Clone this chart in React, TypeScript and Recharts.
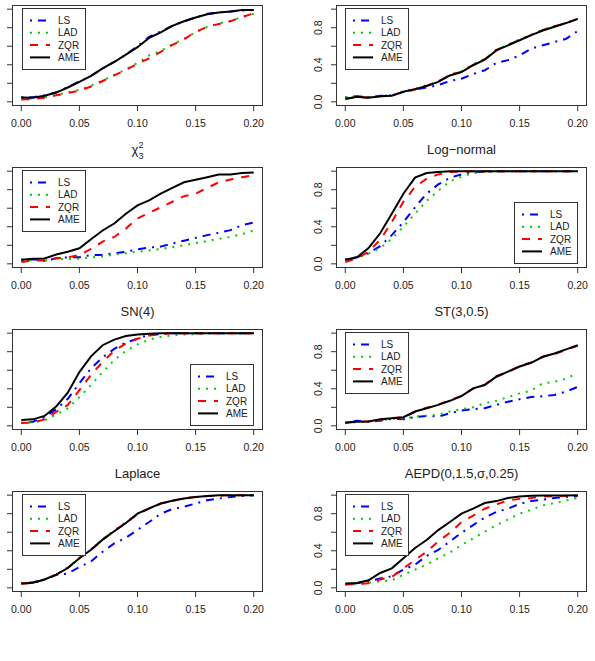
import React from "react";
import { LineChart, Line, XAxis, YAxis } from "recharts";

const xs = [0, 0.01, 0.02, 0.03, 0.04, 0.05, 0.06, 0.07, 0.08, 0.09, 0.1, 0.11, 0.12, 0.13, 0.14, 0.15, 0.16, 0.17, 0.18, 0.19, 0.2];
const xTicks = [0, 0.05, 0.1, 0.15, 0.2];
const yTicks = [0, 0.2, 0.4, 0.6, 0.8, 1];
const yLabels = ["0.0", "", "0.4", "", "0.8", ""];
const seriesNames = ["LS", "LAD", "ZQR", "AME"];

// row 1, left (title cut off)
const lsA = [0.05, 0.05, 0.07, 0.1, 0.16, 0.22, 0.28, 0.36, 0.43, 0.51, 0.6, 0.7, 0.76, 0.82, 0.87, 0.91, 0.95, 0.965, 0.975, 0.985, 0.99];
const ladA = [0.03, 0.035, 0.05, 0.075, 0.1, 0.13, 0.175, 0.23, 0.29, 0.35, 0.42, 0.5, 0.55, 0.62, 0.68, 0.75, 0.81, 0.845, 0.875, 0.915, 0.95];
const zqrA = [0.025, 0.03, 0.045, 0.07, 0.095, 0.12, 0.165, 0.225, 0.285, 0.345, 0.41, 0.47, 0.54, 0.615, 0.675, 0.755, 0.81, 0.84, 0.87, 0.915, 0.955];
const ameA = [0.047, 0.045, 0.065, 0.1, 0.155, 0.215, 0.28, 0.36, 0.43, 0.51, 0.59, 0.69, 0.75, 0.82, 0.87, 0.91, 0.945, 0.965, 0.975, 0.99, 0.99];

// row 1, right (title cut off)
const lsB = [0.05, 0.06, 0.05, 0.065, 0.07, 0.105, 0.13, 0.155, 0.18, 0.225, 0.25, 0.3, 0.34, 0.42, 0.45, 0.5, 0.575, 0.61, 0.645, 0.68, 0.765];
const ladB = [0.05, 0.06, 0.05, 0.065, 0.07, 0.115, 0.14, 0.18, 0.22, 0.295, 0.33, 0.405, 0.465, 0.56, 0.62, 0.675, 0.725, 0.78, 0.815, 0.85, 0.895];
const zqrB = [0.035, 0.05, 0.045, 0.06, 0.065, 0.11, 0.135, 0.175, 0.22, 0.29, 0.325, 0.4, 0.46, 0.56, 0.615, 0.67, 0.72, 0.775, 0.815, 0.85, 0.895];
const ameB = [0.03, 0.055, 0.045, 0.06, 0.065, 0.11, 0.135, 0.17, 0.215, 0.285, 0.32, 0.395, 0.455, 0.555, 0.61, 0.665, 0.72, 0.77, 0.81, 0.85, 0.895];

// chi-square 3
const lsC = [0.043, 0.05, 0.032, 0.06, 0.07, 0.07, 0.095, 0.095, 0.115, 0.13, 0.157, 0.175, 0.186, 0.22, 0.25, 0.28, 0.31, 0.335, 0.364, 0.418, 0.446];
const ladC = [0.03, 0.04, 0.035, 0.055, 0.05, 0.055, 0.07, 0.08, 0.1, 0.115, 0.13, 0.145, 0.16, 0.18, 0.2, 0.225, 0.245, 0.27, 0.29, 0.32, 0.36];
const zqrC = [0.02, 0.035, 0.035, 0.06, 0.07, 0.095, 0.16, 0.24, 0.29, 0.38, 0.49, 0.55, 0.61, 0.67, 0.73, 0.757, 0.82, 0.88, 0.91, 0.935, 0.955];
const ameC = [0.043, 0.054, 0.057, 0.1, 0.13, 0.168, 0.265, 0.36, 0.435, 0.54, 0.63, 0.685, 0.757, 0.82, 0.88, 0.907, 0.935, 0.965, 0.965, 0.98, 0.985];

// log-normal
const lsD = [0.05, 0.07, 0.115, 0.19, 0.31, 0.45, 0.61, 0.757, 0.857, 0.93, 0.965, 0.99, 0.995, 1, 1, 1, 1, 1, 1, 1, 1];
const ladD = [0.04, 0.065, 0.11, 0.17, 0.27, 0.4, 0.54, 0.68, 0.79, 0.89, 0.94, 0.98, 0.99, 1, 1, 1, 1, 1, 1, 1, 1];
const zqrD = [0.02, 0.06, 0.13, 0.26, 0.45, 0.67, 0.83, 0.92, 0.965, 0.99, 0.995, 1, 1, 1, 1, 1, 1, 1, 1, 1, 1];
const ameD = [0.043, 0.07, 0.17, 0.33, 0.54, 0.757, 0.93, 0.98, 0.99, 1, 1, 1, 1, 1, 1, 1, 1, 1, 1, 1, 1];

// SN(4)
const lsE = [0.03, 0.045, 0.093, 0.18, 0.29, 0.46, 0.62, 0.74, 0.83, 0.9, 0.94, 0.985, 0.99, 1, 1, 1, 1, 1, 1, 1, 1];
const ladE = [0.03, 0.04, 0.06, 0.12, 0.19, 0.31, 0.44, 0.58, 0.71, 0.81, 0.88, 0.93, 0.96, 0.975, 0.985, 0.99, 1, 1, 1, 1, 1];
const zqrE = [0.03, 0.035, 0.07, 0.15, 0.225, 0.385, 0.55, 0.69, 0.81, 0.89, 0.94, 0.975, 0.99, 1, 1, 1, 1, 1, 1, 1, 1];
const ameE = [0.064, 0.07, 0.107, 0.207, 0.357, 0.58, 0.75, 0.87, 0.93, 0.97, 0.985, 0.995, 1, 1, 1, 1, 1, 1, 1, 1, 1];

// ST(3,0.5)
const lsF = [0.03, 0.055, 0.045, 0.055, 0.075, 0.07, 0.095, 0.107, 0.1, 0.135, 0.165, 0.18, 0.19, 0.226, 0.26, 0.287, 0.31, 0.32, 0.333, 0.37, 0.42];
const ladF = [0.03, 0.04, 0.045, 0.06, 0.075, 0.08, 0.1, 0.11, 0.12, 0.155, 0.18, 0.2, 0.245, 0.27, 0.31, 0.35, 0.38, 0.46, 0.475, 0.51, 0.57];
const zqrF = [0.03, 0.045, 0.05, 0.065, 0.085, 0.09, 0.15, 0.195, 0.23, 0.275, 0.325, 0.4, 0.445, 0.535, 0.58, 0.645, 0.685, 0.745, 0.775, 0.82, 0.865];
const ameF = [0.035, 0.043, 0.047, 0.07, 0.082, 0.093, 0.154, 0.19, 0.226, 0.27, 0.32, 0.405, 0.44, 0.53, 0.585, 0.64, 0.68, 0.745, 0.78, 0.825, 0.87];

// Laplace
const lsG = [0.05, 0.06, 0.09, 0.14, 0.154, 0.225, 0.285, 0.39, 0.48, 0.54, 0.625, 0.71, 0.8, 0.85, 0.875, 0.91, 0.946, 0.964, 0.98, 0.99, 1];
const ladG = [0.05, 0.055, 0.09, 0.145, 0.22, 0.325, 0.415, 0.525, 0.62, 0.71, 0.8, 0.855, 0.905, 0.94, 0.965, 0.98, 0.99, 0.995, 1, 1, 1];
const zqrG = [0.045, 0.05, 0.09, 0.14, 0.215, 0.32, 0.41, 0.52, 0.615, 0.7, 0.795, 0.855, 0.91, 0.94, 0.965, 0.98, 0.99, 0.995, 1, 1, 1];
const ameG = [0.046, 0.054, 0.09, 0.143, 0.214, 0.32, 0.41, 0.52, 0.61, 0.7, 0.8, 0.857, 0.91, 0.94, 0.964, 0.98, 0.99, 1, 1, 1, 1];

// AEPD(0,1.5,sigma,0.25)
const lsH = [0.04, 0.05, 0.07, 0.1, 0.125, 0.196, 0.25, 0.345, 0.41, 0.5, 0.594, 0.676, 0.758, 0.82, 0.854, 0.907, 0.936, 0.95, 0.97, 0.98, 0.99];
const ladH = [0.035, 0.04, 0.055, 0.07, 0.08, 0.142, 0.196, 0.25, 0.32, 0.38, 0.463, 0.534, 0.605, 0.676, 0.737, 0.8, 0.843, 0.89, 0.915, 0.943, 0.97];
const zqrH = [0.035, 0.04, 0.05, 0.09, 0.117, 0.21, 0.3, 0.39, 0.5, 0.594, 0.71, 0.78, 0.854, 0.9, 0.943, 0.96, 0.97, 0.986, 0.99, 0.993, 0.995];
const ameH = [0.046, 0.053, 0.082, 0.16, 0.21, 0.32, 0.43, 0.516, 0.623, 0.71, 0.8, 0.854, 0.915, 0.936, 0.97, 0.986, 0.993, 0.996, 0.996, 0.996, 1];

const panels = [
  { title: "", row: 0, col: 0, legend: "tl", series: [lsA, ladA, zqrA, ameA] },
  { title: "", row: 0, col: 1, legend: "tl", series: [lsB, ladB, zqrB, ameB] },
  { title: "chi", row: 1, col: 0, legend: "tl", series: [lsC, ladC, zqrC, ameC] },
  { title: "Log\u2212normal", row: 1, col: 1, legend: "br", series: [lsD, ladD, zqrD, ameD] },
  { title: "SN(4)", row: 2, col: 0, legend: "br", series: [lsE, ladE, zqrE, ameE] },
  { title: "ST(3,0.5)", row: 2, col: 1, legend: "tl", series: [lsF, ladF, zqrF, ameF] },
  { title: "Laplace", row: 3, col: 0, legend: "tl", series: [lsG, ladG, zqrG, ameG] },
  { title: "AEPD(0,1.5,\u03c3,0.25)", row: 3, col: 1, legend: "tl", series: [lsH, ladH, zqrH, ameH] },
];

const lineStyle: Record<string, { color: string; dash?: string }> = {
  LS: { color: "#0000FF", dash: "2 6 8 6" },
  LAD: { color: "#00CD00", dash: "2 6" },
  ZQR: { color: "#FF0000", dash: "8 8" },
  AME: { color: "#000000" },
};

const PW = 251;
const PH = 101;
const colLeft = [12.3, 336];
const FONT = "'Liberation Sans', Arial, Helvetica, sans-serif";

function rowTop(r: number) {
  return 4.7 + 162.1 * r;
}

function RotTick(props: any) {
  const { x, y, payload } = props;
  const lab = yLabels[yTicks.indexOf(payload.value)];
  if (!lab) return <g />;
  const X = x - 9;
  return (
    <text x={X} y={y} transform={`rotate(-90 ${X} ${y})`} textAnchor="middle" fontSize={10.5} fill="#222" fontFamily={FONT}>
      {lab}
    </text>
  );
}

function Legend({ pos, L, T }: { pos: string; L: number; T: number }) {
  const w = 64;
  const h = 62;
  const left = pos === "tl" ? L + 9.4 : L + 241.6 - w;
  const top = pos === "tl" ? T + 3 : T + 97 - h;
  return (
    <svg width={w} height={h} style={{ position: "absolute", left, top }}>
      <rect x={0.5} y={0.5} width={w - 1} height={h - 1} fill="#fff" stroke="#333" />
      {seriesNames.map((n, i) => {
        const yy = 12.5 + i * 12.3;
        return (
          <g key={n}>
            <line x1={8} x2={28} y1={yy} y2={yy} stroke={lineStyle[n].color} strokeWidth={2} strokeDasharray={lineStyle[n].dash} />
            <text x={36} y={yy} dominantBaseline="central" fontSize={10} fill="#222" fontFamily={FONT}>
              {n}
            </text>
          </g>
        );
      })}
    </svg>
  );
}

function Title({ text, L, T }: { text: string; L: number; T: number }) {
  if (!text) return null;
  return (
    <svg width={PW} height={32} style={{ position: "absolute", left: L, top: T - 32 }}>
      {text === "chi" ? (
        <text x={PW / 2} y={19} textAnchor="middle" fontSize={13} fill="#222" fontFamily={FONT}>
          χ
          <tspan fontSize={9} dy={-6}>2</tspan>
          <tspan fontSize={9} dx={-5} dy={11}>3</tspan>
        </text>
      ) : (
        <text x={PW / 2} y={19} textAnchor="middle" fontSize={13} fill="#222" fontFamily={FONT}>
          {text}
        </text>
      )}
    </svg>
  );
}

function Panel({ p }: { p: (typeof panels)[number] }) {
  const L = colLeft[p.col];
  const T = rowTop(p.row);
  const data = xs.map((x, i) => ({
    x,
    LS: p.series[0][i],
    LAD: p.series[1][i],
    ZQR: p.series[2][i],
    AME: p.series[3][i],
  }));
  return (
    <>
      <div style={{ position: "absolute", left: L - 40, top: T - 20 }}>
        <LineChart width={PW + 50} height={PH + 60} data={data} margin={{ top: 20, right: 10, bottom: 0, left: 0 }}>
          <XAxis
            dataKey="x"
            type="number"
            domain={[-0.008, 0.208]}
            ticks={xTicks}
            interval={0}
            tickFormatter={(v: number) => v.toFixed(2)}
            axisLine={false}
            tickSize={5}
            tickMargin={9}
            tickLine={{ stroke: "#333" }}
            tick={{ fill: "#222", fontSize: 10.5, fontFamily: FONT }}
            height={40}
          />
          <YAxis
            type="number"
            domain={[-0.045, 1.045]}
            ticks={yTicks}
            interval={0}
            axisLine={false}
            tickSize={5}
            tickMargin={0}
            tickLine={{ stroke: "#333" }}
            tick={p.col === 1 ? <RotTick /> : () => <g />}
            width={40}
          />
          {seriesNames.map((n) => (
            <Line
              key={n}
              type="linear"
              dataKey={n}
              stroke={lineStyle[n].color}
              strokeWidth={2}
              strokeDasharray={lineStyle[n].dash}
              dot={false}
              activeDot={false}
              isAnimationActive={false}
            />
          ))}
        </LineChart>
      </div>
      <div
        style={{
          position: "absolute",
          left: L,
          top: T,
          width: PW,
          height: PH,
          border: "1px solid #333",
          boxSizing: "border-box",
          pointerEvents: "none",
        }}
      />
      <Legend pos={p.legend} L={L} T={T} />
      <Title text={p.title} L={L} T={T} />
    </>
  );
}

export default function App() {
  return (
    <div style={{ position: "absolute", left: 0, top: 0, width: 595, height: 661, background: "#fff", fontFamily: FONT }}>
      {panels.map((p, i) => (
        <Panel key={i} p={p} />
      ))}
    </div>
  );
}
